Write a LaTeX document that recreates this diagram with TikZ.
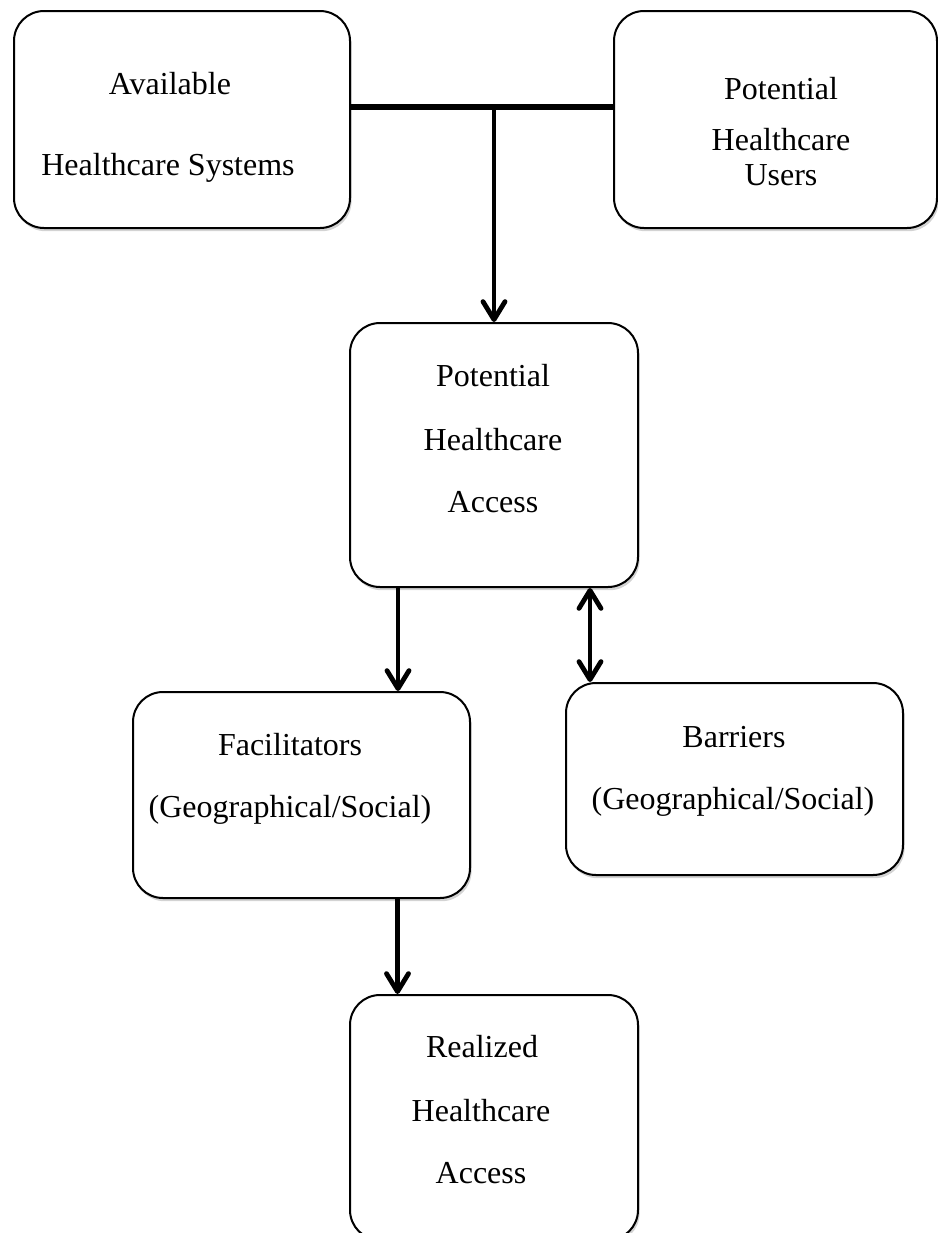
\documentclass[tikz,border=0pt]{standalone}
\usepackage{fontspec}
\setmainfont{Liberation Serif}
\usetikzlibrary{arrows.meta,shadows}

\begin{document}
\begin{tikzpicture}[x=0.5pt,y=-0.5pt,
  box/.style={draw,line width=1pt,rounded corners=15pt,fill=white,inner sep=0pt,
    drop shadow={shadow xshift=0.8pt,shadow yshift=-1.6pt,opacity=0.35}},
  lbl/.style={anchor=base,inner sep=0pt,font=\fontsize{16pt}{19pt}\selectfont},
  arr/.style={line width=2.4pt,-{Straight Barb[length=9pt,width=11pt,round]}},
  darr/.style={line width=2.4pt,{Straight Barb[length=9pt,width=11pt,round]}-{Straight Barb[length=9pt,width=11pt,round]}}]
  \useasboundingbox (0,0) rectangle (938,1233);

  \node[box,minimum width=168pt,minimum height=108.5pt] (ahs) at (182,119.5) {}; % available systems
  \node[box,minimum width=161.5pt,minimum height=108.5pt] (phu) at (775.5,119.5) {}; % potential users
  \node[box,minimum width=144pt,minimum height=132pt] (pha) at (494,455) {}; % potential access
  \node[box,minimum width=168.5pt,minimum height=103pt] (fac) at (301.5,795) {}; % facilitators
  \node[box,minimum width=168.5pt,minimum height=96pt] (bar) at (734.5,779) {}; % barriers
  \node[box,minimum width=144pt,minimum height=122.5pt] (rha) at (494,1117.5) {}; % realized access

  \node[lbl] (ahs-1) at (170,94) {Available};
  \node[lbl] (ahs-2) at (168,175) {Healthcare Systems};
  \node[lbl] (phu-1) at (781,99) {Potential};
  \node[lbl] (phu-2) at (781,150) {Healthcare};
  \node[lbl] (phu-3) at (781,185) {Users};
  \node[lbl] (pha-1) at (493,386) {Potential};
  \node[lbl] (pha-2) at (493,450) {Healthcare};
  \node[lbl] (pha-3) at (493,512) {Access};
  \node[lbl] (fac-1) at (290,755) {Facilitators};
  \node[lbl] (fac-2) at (290,817) {(Geographical/Social)};
  \node[lbl] (bar-1) at (734,747) {Barriers};
  \node[lbl] (bar-2) at (733,809) {(Geographical/Social)};
  \node[lbl] (rha-1) at (482,1057) {Realized};
  \node[lbl] (rha-2) at (481,1121) {Healthcare};
  \node[lbl] (rha-3) at (481,1183) {Access};

  % T junction between the two top boxes
  \coordinate (tee) at (494,107);
  \draw[line width=3pt] ([yshift=6.25pt]ahs.east) -- ([yshift=6.25pt]phu.west);
  \draw[arr] (tee) -- (pha.north);

  \draw[arr] ([xshift=-48pt]pha.south) -- ([xshift=-48pt]pha.south |- fac.north);
  \draw[darr] ([xshift=48pt]pha.south) -- ([xshift=48pt]pha.south |- bar.north);
  \draw[arr] ([xshift=48pt]fac.south) -- ([xshift=48pt]fac.south |- rha.north);

\end{tikzpicture}
\end{document}
